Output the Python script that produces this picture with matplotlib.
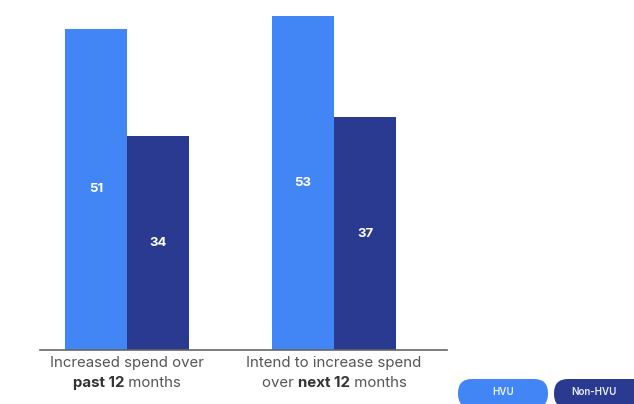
import matplotlib.pyplot as plt
from matplotlib.patches import FancyBboxPatch

# data
categories = [("Increased spend over", [("past 12", True), (" months", False)]),
              ("Intend to increase spend", [("over ", False), ("next 12", True), (" months", False)])]
hvu = [51, 53]
non_hvu = [34, 37]
series_names = ["HVU", "Non-HVU"]

c_hvu = "#4286F5"
c_non = "#2B3A91"
txt_gray = "#555555"

plt.rcParams['font.family'] = ['Inter', 'DejaVu Sans']

fig = plt.figure(figsize=(6.34, 4.04), dpi=100)

# overlay axes in pixel coords for the legend pills
pix = fig.add_axes([0, 0, 1, 1])
pix.set_xlim(0, 634)
pix.set_ylim(0, 404)
pix.axis('off')

ax = fig.add_axes([40 / 634, 54 / 404, 407 / 634, 350 / 404])

x = [0, 1]
w = 0.3
b1 = ax.bar([i - w / 2 for i in x], hvu, width=w, color=c_hvu)
b2 = ax.bar([i + w / 2 for i in x], non_hvu, width=w, color=c_non)

for bars, vals in [(b1, hvu), (b2, non_hvu)]:
    for b, v in zip(bars, vals):
        ax.text(b.get_x() + b.get_width() / 2, v / 2, str(v), ha='center', va='center',
                color='white', fontsize=9.5, fontweight='bold')

ax.set_xlim(-0.42, 1.546)
ax.set_ylim(0, 55.6)
for s in ['top', 'right', 'left']:
    ax.spines[s].set_visible(False)
ax.spines['bottom'].set_color('#666666')
ax.spines['bottom'].set_linewidth(1.2)
ax.set_xticks([])
ax.set_yticks([])

# category labels, second line has bold parts
fig.canvas.draw()
renderer = fig.canvas.get_renderer()
for i, (line1, parts) in enumerate(categories):
    cx = ax.transData.transform((x[i], 0))[0] / 634
    fig.text(cx, 1 - 363 / 404, line1, ha='center', va='center', fontsize=10.8, color=txt_gray)
    pieces = []
    for s, bold in parts:
        t = fig.text(0, 1 - 383 / 404, s, ha='left', va='center', fontsize=10.8,
                     color='#333333' if bold else txt_gray,
                     fontweight='bold' if bold else 'normal')
        pieces.append(t)
    widths = [p.get_window_extent(renderer).width for p in pieces]
    total = sum(widths)
    start = cx * 634 - total / 2
    for p, wd in zip(pieces, widths):
        p.set_x(start / 634)
        start += wd

# legend pills
pills = [(458, 548, c_hvu), (554, 650, c_non)]
for (x0, x1, col), name in zip(pills, series_names):
    patch = FancyBboxPatch((x0, -4), x1 - x0, 29,
                           boxstyle="round,pad=0,rounding_size=14",
                           facecolor=col, edgecolor='none')
    pix.add_patch(patch)
    tx = (x0 + min(x1, 634)) / 2
    pix.text(tx, 12, name, ha='center', va='center', fontsize=7, fontweight='semibold',
             color='#E8EEFF')

fig.savefig('out.png', dpi=100)
